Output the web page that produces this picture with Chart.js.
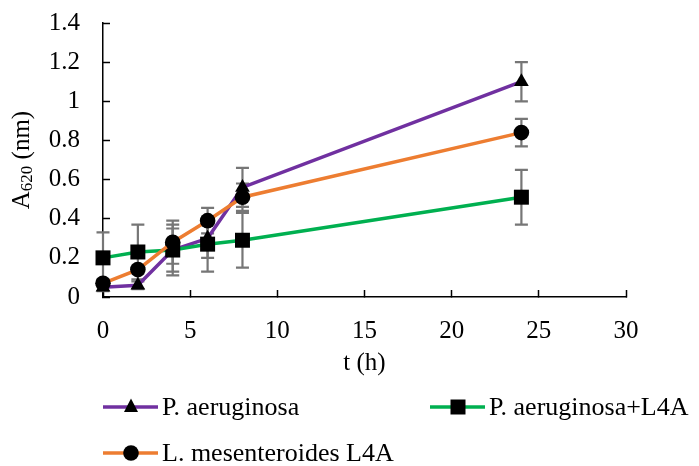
<!DOCTYPE html>
<html>
<head>
<meta charset="utf-8">
<script src="https://cdn.jsdelivr.net/npm/chart.js@4.4.0/dist/chart.umd.min.js"></script>
<style>
  html, body { margin: 0; padding: 0; background: #fff; }
  #wrap { position: relative; width: 699px; height: 466px; }
</style>
</head>
<body>
<div id="wrap"><canvas id="growthChart" width="699" height="466"></canvas></div>
<script>
// sampling times (h)
const times = [0, 2, 4, 6, 8, 24];

// A620 readings per culture
const paValues   = [0.05, 0.06, 0.24, 0.30, 0.56, 1.10];
const paErr      = [0.02, 0.02, 0.13, 0.10, 0.10, 0.10];
const l4aValues  = [0.20, 0.23, 0.24, 0.27, 0.29, 0.51];
const l4aErr     = [0.13, 0.14, 0.11, 0.14, 0.14, 0.14];
const lmValues   = [0.07, 0.14, 0.28, 0.39, 0.51, 0.84];
const lmErr      = [0.02, 0.02, 0.11, 0.065, 0.07, 0.07];

const seriesNames = ["P. aeruginosa", "P. aeruginosa+L4A", "L. mesenteroides L4A"];
const xTicks = [0, 5, 10, 15, 20, 25, 30];
const yTicks = [0, 0.2, 0.4, 0.6, 0.8, 1, 1.2, 1.4];

const serif = "'Liberation Serif', 'Times New Roman', serif";
let purple = "#7030A0", green = "#00B050", orange = "#ED7D31";
let fontSize = 25;

function toPoints(vals) {
    return times.map((t, i) => ({ x: t, y: vals[i] }));
}

function makeSet(label, vals, errs, color, shape, radius, order) {
    return {
        label: label,
        data: toPoints(vals),
        errors: errs,
        borderColor: color,
        backgroundColor: "#000",
        borderWidth: 3.5,
        pointStyle: shape,
        pointRadius: radius,
        pointBorderWidth: 0,
        pointBackgroundColor: "#000",
        pointBorderColor: "#000",
        clip: false,
        order: order,
        tension: 0
    };
}

// marker drawn by hand for the legend
function drawMarker(ctx, shape, x, y) {
    ctx.fillStyle = "#000";
    ctx.beginPath();
    if (shape == "triangle") {
        ctx.moveTo(x, y - 8.5);
        ctx.lineTo(x + 7, y + 5);
        ctx.lineTo(x - 7, y + 5);
        ctx.closePath();
    } else if (shape == "rect") {
        ctx.rect(x - 7.5, y - 7.5, 15, 15);
    } else {
        ctx.arc(x, y, 7.8, 0, Math.PI * 2);
    }
    ctx.fill();
}

const errorBars = {
    id: "errorBars",
    beforeDatasetsDraw(chart) {
        let ctx = chart.ctx;
        let yScale = chart.scales.y;
        ctx.save();
        ctx.strokeStyle = "#767676";
        ctx.lineWidth = 2.2;
        chart.data.datasets.forEach((ds, di) => {
            let meta = chart.getDatasetMeta(di);
            meta.data.forEach((pt, i) => {
                let v = ds.data[i].y;
                let e = ds.errors[i];
                let top = yScale.getPixelForValue(v + e);
                let bot = yScale.getPixelForValue(v - e);
                ctx.beginPath();
                ctx.moveTo(pt.x, top);
                ctx.lineTo(pt.x, bot);
                ctx.moveTo(pt.x - 6.5, top);
                ctx.lineTo(pt.x + 6.5, top);
                ctx.moveTo(pt.x - 6.5, bot);
                ctx.lineTo(pt.x + 6.5, bot);
                ctx.stroke();
            });
        });
        ctx.restore();
    }
};

const extras = {
    id: "extras",
    afterDraw(chart) {
        let ctx = chart.ctx;
        let area = chart.chartArea;
        ctx.save();

        // y title with subscript
        let cy = (area.top + area.bottom) / 2;
        ctx.translate(22, cy);
        ctx.rotate(-Math.PI / 2);
        ctx.fillStyle = "#000";
        ctx.textBaseline = "middle";
        ctx.font = fontSize + "px " + serif;
        let wA = ctx.measureText("A").width;
        ctx.font = "17px " + serif;
        let wSub = ctx.measureText("620").width;
        ctx.font = fontSize + "px " + serif;
        let wRest = ctx.measureText(" (nm)").width;
        let start = -(wA + wSub + wRest) / 2;
        ctx.textAlign = "left";
        ctx.fillText("A", start, 0);
        ctx.font = "17px " + serif;
        ctx.fillText("620", start + wA, 6);
        ctx.font = fontSize + "px " + serif;
        ctx.fillText(" (nm)", start + wA + wSub, 0);
        ctx.setTransform(1, 0, 0, 1, 0, 0);

        // legend
        let spots = [
            { x: 103, y: 407 },
            { x: 430, y: 407 },
            { x: 103, y: 453 }
        ];
        chart.data.datasets.forEach((ds, i) => {
            let s = spots[i];
            ctx.strokeStyle = ds.borderColor;
            ctx.lineWidth = 3.5;
            ctx.beginPath();
            ctx.moveTo(s.x, s.y);
            ctx.lineTo(s.x + 55, s.y);
            ctx.stroke();
            drawMarker(ctx, ds.pointStyle, s.x + 28, s.y);
            ctx.fillStyle = "#000";
            ctx.font = "26px " + serif;
            ctx.textAlign = "left";
            ctx.textBaseline = "middle";
            ctx.fillText(ds.label, s.x + 59, s.y + 1);
        });
        ctx.restore();
    }
};

let ctx = document.getElementById("growthChart").getContext("2d");
let growthChart = new Chart(ctx, {
    type: "line",
    data: {
        datasets: [
            makeSet(seriesNames[0], paValues, paErr, purple, "triangle", 8.5, 3),
            makeSet(seriesNames[1], l4aValues, l4aErr, green, "rect", 10.6, 2),
            makeSet(seriesNames[2], lmValues, lmErr, orange, "circle", 7.8, 1)
        ]
    },
    options: {
        responsive: false,
        animation: false,
        events: [],
        layout: { padding: { left: 0, top: 23, right: 73, bottom: 0 } },
        plugins: {
            legend: { display: false },
            tooltip: { enabled: false }
        },
        scales: {
            x: {
                type: "linear",
                min: 0,
                max: 30,
                afterFit: (scale) => { scale.height = 169; },
                afterBuildTicks: (scale) => { scale.ticks = xTicks.map(v => ({ value: v })); },
                grid: { drawOnChartArea: false, color: "#000", tickLength: -7, tickWidth: 1.5 },
                border: { color: "#000", width: 1.5 },
                ticks: {
                    color: "#000",
                    padding: 26,
                    maxRotation: 0,
                    font: { family: serif, size: fontSize }
                },
                title: {
                    display: true,
                    text: "t (h)",
                    color: "#000",
                    font: { family: serif, size: fontSize },
                    padding: { top: 0, bottom: 88 }
                }
            },
            y: {
                min: 0,
                max: 1.4,
                afterFit: (scale) => {
                    scale.width = 103;
                    scale.paddingTop = 0;
                    scale.paddingBottom = 0;
                },
                afterBuildTicks: (scale) => { scale.ticks = yTicks.map(v => ({ value: v })); },
                grid: { drawOnChartArea: false, color: "#000", tickLength: -7, tickWidth: 1.5 },
                border: { color: "#000", width: 1.5 },
                ticks: {
                    color: "#000",
                    padding: 30,
                    font: { family: serif, size: fontSize },
                    callback: (v) => String(+Number(v).toFixed(1))
                },
                title: { display: false }
            }
        }
    },
    plugins: [errorBars, extras]
});
</script>
</body>
</html>
